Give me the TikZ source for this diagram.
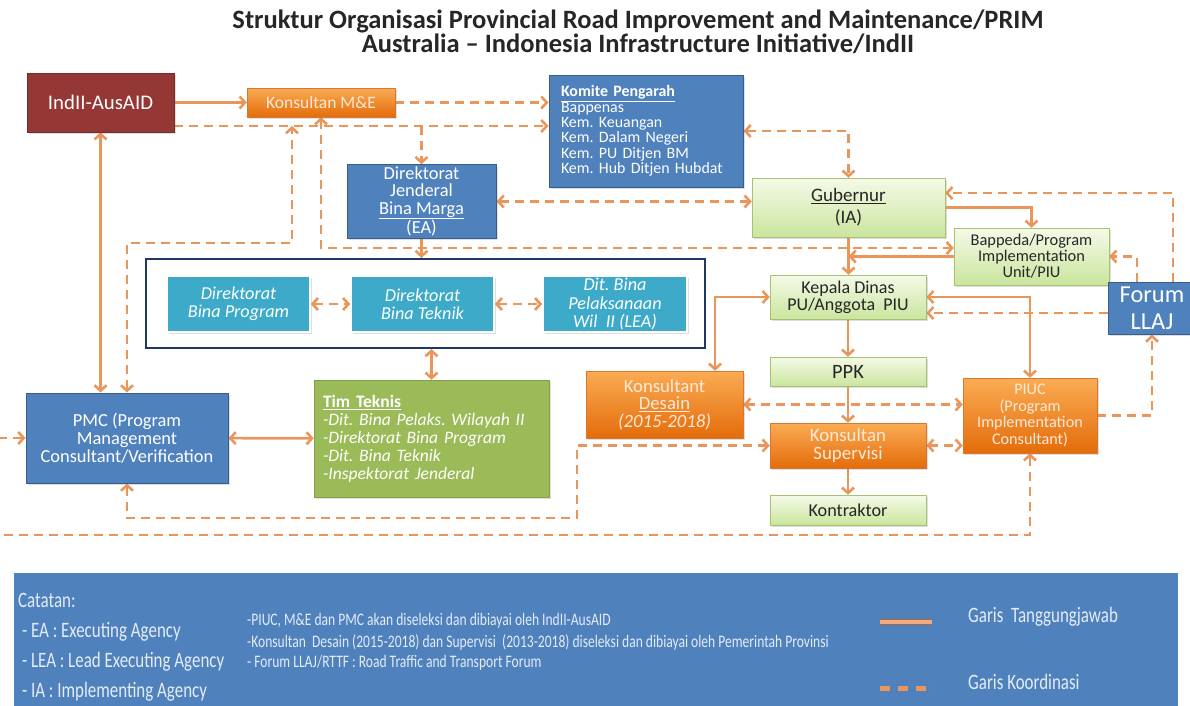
\documentclass[tikz,border=0pt]{standalone}
\usepackage{fontspec}
\setmainfont{Carlito}
\newfontfamily\narrowfont[FakeStretch=0.77]{Carlito}
\frenchspacing
\usetikzlibrary{arrows.meta}
\usetikzlibrary{backgrounds}
\usetikzlibrary{calc}
\usetikzlibrary{shadows}

\definecolor{lineor}{RGB}{234,150,90}
\definecolor{redfill}{RGB}{149,55,53}
\definecolor{bluefill}{RGB}{79,129,189}
\definecolor{blueedge}{RGB}{56,93,138}
\definecolor{tealfill}{RGB}{60,170,200}
\definecolor{greenfill}{RGB}{155,187,89}
\definecolor{paletop}{RGB}{244,250,232}
\definecolor{palebot}{RGB}{203,229,158}
\definecolor{paleedge}{RGB}{165,195,110}
\definecolor{ortop}{RGB}{250,172,84}
\definecolor{orbot}{RGB}{228,108,10}
\definecolor{oredge}{RGB}{215,120,50}
\definecolor{grpedge}{RGB}{31,56,100}
\definecolor{ortext}{RGB}{253,233,217}
\definecolor{legtext}{RGB}{228,236,246}

\newcommand{\fs}[2]{\fontsize{#1}{#2}\selectfont}

\tikzset{
    wh/.style 2 args={minimum width=#1pt, minimum height=#2pt},
    orgbox/.style={rectangle, inner sep=2pt, align=center,
        drop shadow={opacity=0.25, shadow xshift=2pt, shadow yshift=-2pt}},
    bluebx/.style={orgbox, fill=bluefill, draw=blueedge, line width=1pt, text=white},
    orangebx/.style={orgbox, top color=ortop, bottom color=orbot, draw=oredge, text=ortext},
    palebx/.style={orgbox, top color=paletop, bottom color=palebot, draw=paleedge, text=black!85},
    tealbx/.style={orgbox, fill=tealfill, draw=white, line width=1.5pt, text=white,
        font=\itshape\fs{18.2}{18.3}},
    resp/.style={draw=lineor, line width=2.6pt},
    coord/.style={resp, dash pattern=on 9pt off 6pt}
}

\begin{document}
\begin{tikzpicture}[x=1pt, y=-1pt, >={Straight Barb[length=5.5pt,width=12pt]}]

\useasboundingbox (0,0) rectangle (1190,705);

\node[font=\bfseries\fs{26.5}{24.5}, text=black!85, align=center] (title) at (638,32)
    {Struktur Organisasi Provincial Road Improvement and Maintenance/PRIM\\
     Australia -- Indonesia Infrastructure Initiative/IndII};

% top row
\node[orgbox, fill=redfill, draw=redfill!80!black, text=white, wh={147}{59}, font=\fs{20.8}{22}]
    (ind) at (100.5,102.5) {IndII-AusAID};
\node[orangebx, wh={148}{29}, font=\fs{17.5}{18}] (mne) at (321,102.5) {Konsultan M\&E};
\node[bluebx, wh={194}{112}, align=left, text width=170pt, inner xsep=12pt, font=\fs{15.9}{15.4}]
    (kom) at (646,131)
    {\textbf{\underline{Komite Pengarah}}\\Bappenas\\Kem. Keuangan\\Kem. Dalam Negeri\\
     Kem. PU Ditjen BM\\Kem. Hub Ditjen Hubdat};
\node[bluebx, wh={149}{71}, font=\fs{18.4}{17.3}] (djbm) at (421.5,201.5)
    {Direktorat\\Jenderal\\\underline{Bina Marga}\\(EA)};

% provincial side
\node[palebx, wh={193}{59}, font=\fs{19}{22}] (gub) at (848.5,207.5) {\underline{Gubernur}\\(IA)};
\node[palebx, wh={155}{57}, font=\fs{16.4}{16}] (bap) at (1031.5,256.5)
    {Bappeda/Program\\Implementation\\Unit/PIU};
\node[palebx, wh={156}{44}, font=\fs{18}{16.7}] (kad) at (848,297) {Kepala Dinas\\PU/Anggota\ \ PIU};
\node[bluebx, wh={88}{52}, font=\fs{24.4}{26.7}] (forum) at (1152,308) {Forum\\LLAJ};
\node[palebx, wh={156}{29}, font=\fs{20.4}{21}] (ppk) at (848,371.5) {PPK};
\node[orangebx, wh={157}{67}, font=\fs{18.7}{17.5}] (kdes) at (664.5,404.5)
    {Konsultant\\\underline{Desain}\\\textit{(2015-2018)}};
\node[orangebx, wh={134}{75}, font=\fs{16.2}{16.5}] (piuc) at (1030,415.5)
    {PIUC\\(Program\\Implementation\\Consultant)};
\node[orangebx, wh={156}{45}, font=\fs{18.9}{18.3}] (ksup) at (848,445.5) {Konsultan\\Supervisi};
\node[palebx, wh={156}{30}, font=\fs{18.2}{19}] (kon) at (848,510) {Kontraktor};

% directorate group
\node[draw=grpedge, line width=2pt, fill=white, wh={559}{89}] (grp) at (425.5,303.5) {};
\node[tealbx, wh={143}{56}] (dbp) at (238.5,304) {Direktorat\\Bina Program};
\node[tealbx, wh={143}{56}] (dbt) at (422.5,304) {Direktorat\\Bina Teknik};
\node[tealbx, wh={144}{56}] (dbl) at (615,304) {Dit. Bina\\Pelaksanaan\\Wil\ \ II (LEA)};
\draw[coord,<->] (dbp) -- (dbt);
\draw[coord,<->] (dbt) -- (dbl);

% lower left
\node[bluebx, wh={202}{90}, font=\fs{18.4}{18}] (pmc) at (127,438)
    {PMC (Program\\Management\\Consultant/Verification};
\node[orgbox, fill=greenfill, draw=greenfill!85!black, text=white, wh={235}{117}, align=left,
    text width=217pt, inner xsep=9pt, font=\fs{17.5}{18}] (tim) at (431.5,438.5)
    {\textbf{\underline{Tim Teknis}}\\\itshape -Dit. Bina Pelaks. Wilayah II\\
     \itshape -Direktorat Bina Program\\\itshape -Dit. Bina Teknik\\\itshape -Inspektorat Jenderal};

\begin{scope}[on background layer]
    \coordinate (topline) at ($(ind.east)+(0,23.5)$);
    \coordinate (pmcup) at (292,243);
    \coordinate (fw) at ($(forum.west)+(0,5)$);
    \coordinate (supbend) at (577,518);
    \coordinate (farleft) at (-6,535);
    \draw[resp,->] (ind) -- (mne);
    \draw[coord,->] (mne.east) -- (mne.east -| kom.west);
    \draw[coord,->] (topline) -- (topline -| kom.west);
    \draw[coord,->] (topline -| djbm.north) -- (djbm.north);
    \draw[coord,<->] (mne.south) |- ($(bap.west)+(0,-8.5)$);
    \draw[coord,<->] (pmc.north) |- (pmcup) -- (pmcup |- topline);
    \draw[resp,<->] (ind.south) -- (ind.south |- pmc.north);
    \draw[coord,<->] (djbm.east) -- (djbm.east -| gub.west);
    \draw[coord,<->] (kom.east) -| (gub.north);
    \draw[coord,->] ($(forum.north)+(21,0)$) |- ($(gub.east)+(0,-14.5)$);
    \draw[resp,->] (gub.east) -| (bap.north);
    \draw[coord,->] ($(forum.north)+(-15,0)$) |- (bap.east);
    \draw[resp,->] (bap.west) -- (bap.west -| gub.south);
    \draw[resp,->] (gub.south) -- (gub.south |- kad.north);
    \draw[coord,->] (fw) -- (fw -| kad.east);
    \draw[resp,<->] (kad.east) -| (piuc.north);
    \draw[resp,<->] (kad.west) -| ($(kdes.north)+(50.5,0)$);
    \draw[resp,->] (kad) -- (ppk);
    \draw[resp,->] (ppk) -- (ksup);
    \draw[coord,<->] (kdes.east) -- (kdes.east -| piuc.west);
    \draw[coord,<->] (ksup.east) -- (ksup.east -| piuc.west);
    \draw[resp,->] (ksup) -- (kon);
    \draw[coord,<->] (pmc.south) |- (supbend) |- (ksup.west);
    \draw[coord,<->] (pmc.west) -| (farleft) -| (piuc.south);
    \draw[coord,->] (piuc.east) -| (forum.south);
    \draw[resp,->] (djbm.south) -- (djbm.south |- grp.north);
    \draw[resp,<->] (grp.south -| tim.north) -- (tim.north);
    \draw[resp,<->] (pmc) -- (tim);
\end{scope}

% notes panel
\node[fill=bluefill, wh={1164}{137}, inner sep=0pt] (legend) at (596,641.5) {};
\begin{scope}[every node/.style={anchor=west, text=legtext, inner sep=0pt}]
    \node[font=\narrowfont\fs{22}{24}] (cat) at (18,600) {Catatan:};
    \node[font=\narrowfont\fs{22}{24}] (ea) at (18,632) {\ - EA : Executing Agency};
    \node[font=\narrowfont\fs{22}{24}] (lea) at (18,662) {\ - LEA : Lead Executing Agency};
    \node[font=\narrowfont\fs{22}{24}] (ia) at (18,692) {\ - IA : Implementing Agency};
    \node[font=\narrowfont\fs{17.6}{19}] (n1) at (247,621) {-PIUC, M\&E dan PMC akan diseleksi dan dibiayai oleh IndII-AusAID};
    \node[font=\narrowfont\fs{17.6}{19}] (n2) at (247,642) {-Konsultan\ \ Desain (2015-2018) dan Supervisi\ \ (2013-2018) diseleksi dan dibiayai oleh Pemerintah Provinsi};
    \node[font=\narrowfont\fs{17.6}{19}] (n3) at (247,663) {- Forum LLAJ/RTTF : Road Traffic and Transport Forum};
    \node[font=\narrowfont\fs{22}{24}] (gt) at (968,617) {Garis\ \ Tanggungjawab};
    \node[font=\narrowfont\fs{22}{24}] (gk) at (968,682) {Garis Koordinasi};
\end{scope}
\draw[draw=lineor!70!black, line width=6.5pt] (880,622) -- (932,622);
\draw[draw=lineor!80!white, line width=4.5pt] (880,622) -- (932,622);
\draw[draw=lineor, line width=5pt, dash pattern=on 10pt off 8pt] (880,688) -- (934,688);
\end{tikzpicture}
\end{document}
